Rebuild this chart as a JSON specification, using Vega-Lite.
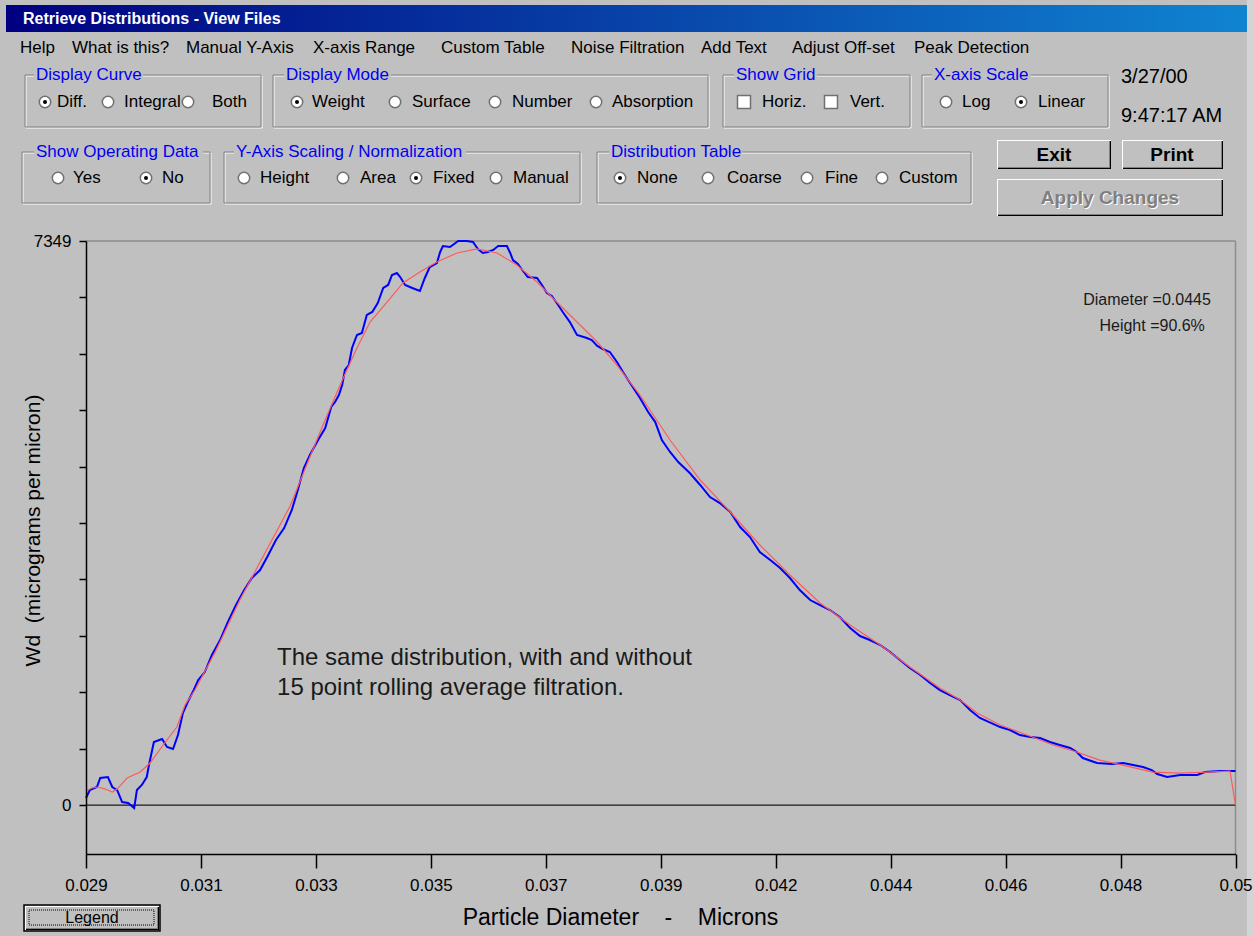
{
  "$schema": "https://vega.github.io/schema/vega-lite/v6.json",
  "width": 1254,
  "height": 936,
  "autosize": "none",
  "padding": 0,
  "background": "#c0c0c0",
  "config": {"view": {"stroke": null}, "font": "Liberation Sans"},
  "datasets": {
    "titlebar": [{"x": 6, "x2": 1247, "y": 5, "y2": 32}],
    "wintitle": [{"label": "Retrieve Distributions - View Files", "x": 23, "y": 19}],
    "menu": [
      {"label": "Help", "x": 20, "y": 48},
      {"label": "What is this?", "x": 72, "y": 48},
      {"label": "Manual Y-Axis", "x": 186, "y": 48},
      {"label": "X-axis Range", "x": 313, "y": 48},
      {"label": "Custom Table", "x": 441, "y": 48},
      {"label": "Noise Filtration", "x": 571, "y": 48},
      {"label": "Add Text", "x": 701, "y": 48},
      {"label": "Adjust Off-set", "x": 792, "y": 48},
      {"label": "Peak Detection", "x": 914, "y": 48}
    ],
    "groups": [
      {"title": "Display Curve", "x": 25, "x2": 261, "y": 75, "y2": 127, "tx": 34, "tx2": 143},
      {"title": "Display Mode", "x": 273, "x2": 708, "y": 75, "y2": 127, "tx": 284, "tx2": 391},
      {"title": "Show Grid", "x": 723, "x2": 910, "y": 75, "y2": 127, "tx": 734, "tx2": 817},
      {"title": "X-axis Scale", "x": 922, "x2": 1108, "y": 75, "y2": 127, "tx": 932, "tx2": 1031},
      {"title": "Show Operating Data", "x": 22, "x2": 210, "y": 152, "y2": 203, "tx": 34, "tx2": 203},
      {"title": "Y-Axis Scaling / Normalization", "x": 224, "x2": 580, "y": 152, "y2": 203, "tx": 234, "tx2": 466},
      {"title": "Distribution Table", "x": 597, "x2": 971, "y": 152, "y2": 203, "tx": 609, "tx2": 742}
    ],
    "radios": [
      {"x": 45, "y": 102, "on": true}, {"x": 108, "y": 102, "on": false}, {"x": 188, "y": 102, "on": false},
      {"x": 297, "y": 102, "on": true}, {"x": 395, "y": 102, "on": false}, {"x": 495, "y": 102, "on": false},
      {"x": 596, "y": 102, "on": false}, {"x": 946, "y": 102, "on": false}, {"x": 1021, "y": 102, "on": true},
      {"x": 58, "y": 178, "on": false}, {"x": 146, "y": 178, "on": true}, {"x": 244, "y": 178, "on": false},
      {"x": 343, "y": 178, "on": false}, {"x": 416, "y": 178, "on": true}, {"x": 496, "y": 178, "on": false},
      {"x": 620, "y": 178, "on": true}, {"x": 708, "y": 178, "on": false}, {"x": 807, "y": 178, "on": false},
      {"x": 882, "y": 178, "on": false}
    ],
    "checks": [{"x": 744, "y": 102}, {"x": 831, "y": 102}],
    "ctrl": [
      {"label": "Diff.", "x": 57, "y": 102}, {"label": "Integral", "x": 124, "y": 102}, {"label": "Both", "x": 212, "y": 102},
      {"label": "Weight", "x": 312, "y": 102}, {"label": "Surface", "x": 412, "y": 102}, {"label": "Number", "x": 512, "y": 102},
      {"label": "Absorption", "x": 612, "y": 102}, {"label": "Horiz.", "x": 762, "y": 102}, {"label": "Vert.", "x": 850, "y": 102},
      {"label": "Log", "x": 962, "y": 102}, {"label": "Linear", "x": 1038, "y": 102},
      {"label": "Yes", "x": 73, "y": 178}, {"label": "No", "x": 162, "y": 178}, {"label": "Height", "x": 260, "y": 178},
      {"label": "Area", "x": 360, "y": 178}, {"label": "Fixed", "x": 433, "y": 178}, {"label": "Manual", "x": 513, "y": 178},
      {"label": "None", "x": 637, "y": 178}, {"label": "Coarse", "x": 727, "y": 178}, {"label": "Fine", "x": 825, "y": 178},
      {"label": "Custom", "x": 899, "y": 178}
    ],
    "dates": [{"label": "3/27/00", "x": 1121, "y": 77}, {"label": "9:47:17 AM", "x": 1121, "y": 116}],
    "buttons": [
      {"x": 997, "x2": 1111, "y": 140, "y2": 169, "def": false},
      {"x": 1122, "x2": 1223, "y": 140, "y2": 169, "def": false},
      {"x": 997, "x2": 1223, "y": 179, "y2": 216, "def": false},
      {"x": 25, "x2": 159, "y": 906, "y2": 930, "def": true}
    ],
    "buttontext": [
      {"label": "Exit", "x": 1054, "y": 155, "kind": "bold"},
      {"label": "Print", "x": 1172, "y": 155, "kind": "bold"},
      {"label": "Apply Changes", "x": 1110, "y": 198, "kind": "disabled"},
      {"label": "Legend", "x": 92, "y": 918, "kind": "plain"}
    ],
    "edges": [
      {"x": 1247, "x2": 1254, "y": 0, "y2": 936}
    ],
    "frame": [
      {"d": 0.029, "w": 7349, "d2": 0.05, "w2": 7349},
      {"d": 0.05, "w": -638, "d2": 0.05, "w2": 7349}
    ],
    "zero": [{"d": 0.029, "d2": 0.05, "w": 0, "w2": 0}],
    "blue": [
      {"d":0.02900,"w":91},{"d":0.02907,"w":195},{"d":0.02920,"w":235},{"d":0.02926,"w":352},{"d":0.02940,"w":365},{"d":0.02948,"w":235},{"d":0.02957,"w":195},{"d":0.02966,"w":39},{"d":0.02977,"w":26},{"d":0.02988,"w":-39},
      {"d":0.02993,"w":195},{"d":0.03002,"w":261},{"d":0.03011,"w":365},{"d":0.03015,"w":521},{"d":0.03024,"w":821},{"d":0.03039,"w":860},{"d":0.03048,"w":756},{"d":0.03059,"w":730},{"d":0.03068,"w":912},{"d":0.03077,"w":1199},
      {"d":0.03085,"w":1329},{"d":0.03095,"w":1472},{"d":0.03105,"w":1629},{"d":0.03117,"w":1733},{"d":0.03130,"w":1955},{"d":0.03145,"w":2150},{"d":0.03159,"w":2384},{"d":0.03174,"w":2606},{"d":0.03189,"w":2801},{"d":0.03203,"w":2958},
      {"d":0.03218,"w":3062},{"d":0.03232,"w":3244},{"d":0.03247,"w":3453},{"d":0.03262,"w":3609},{"d":0.03276,"w":3844},{"d":0.03287,"w":4104},{"d":0.03298,"w":4391},{"d":0.03309,"w":4561},{"d":0.03324,"w":4756},{"d":0.03337,"w":4912},
      {"d":0.03348,"w":5186},{"d":0.03355,"w":5251},{"d":0.03362,"w":5342},{"d":0.03368,"w":5473},{"d":0.03373,"w":5668},{"d":0.03380,"w":5733},{"d":0.03386,"w":5955},{"d":0.03395,"w":6124},{"d":0.03404,"w":6150},{"d":0.03413,"w":6385},
      {"d":0.03423,"w":6424},{"d":0.03433,"w":6541},{"d":0.03443,"w":6737},{"d":0.03452,"w":6776},{"d":0.03459,"w":6906},{"d":0.03468,"w":6932},{"d":0.03474,"w":6880},{"d":0.03483,"w":6776},{"d":0.03496,"w":6737},{"d":0.03510,"w":6697},
      {"d":0.03519,"w":6867},{"d":0.03528,"w":7010},{"d":0.03541,"w":7062},{"d":0.03547,"w":7206},{"d":0.03552,"w":7284},{"d":0.03565,"w":7271},{"d":0.03570,"w":7297},{"d":0.03580,"w":7349},{"d":0.03596,"w":7349},{"d":0.03607,"w":7336},
      {"d":0.03616,"w":7245},{"d":0.03625,"w":7193},{"d":0.03634,"w":7206},{"d":0.03644,"w":7232},{"d":0.03653,"w":7284},{"d":0.03669,"w":7284},{"d":0.03675,"w":7193},{"d":0.03680,"w":7101},{"d":0.03689,"w":7049},{"d":0.03697,"w":6971},
      {"d":0.03707,"w":6880},{"d":0.03724,"w":6867},{"d":0.03733,"w":6776},{"d":0.03742,"w":6671},{"d":0.03751,"w":6632},{"d":0.03760,"w":6541},{"d":0.03771,"w":6424},{"d":0.03784,"w":6293},{"d":0.03797,"w":6124},{"d":0.03815,"w":6085},
      {"d":0.03824,"w":6059},{"d":0.03834,"w":5981},{"d":0.03844,"w":5942},{"d":0.03857,"w":5903},{"d":0.03870,"w":5772},{"d":0.03881,"w":5642},{"d":0.03894,"w":5499},{"d":0.03912,"w":5303},{"d":0.03927,"w":5121},{"d":0.03940,"w":4990},
      {"d":0.03952,"w":4756},{"d":0.03967,"w":4600},{"d":0.03982,"w":4469},{"d":0.04003,"w":4326},{"d":0.04022,"w":4170},{"d":0.04040,"w":4013},{"d":0.04058,"w":3935},{"d":0.04077,"w":3818},{"d":0.04095,"w":3622},{"d":0.04113,"w":3492},
      {"d":0.04131,"w":3297},{"d":0.04150,"w":3192},{"d":0.04168,"w":3088},{"d":0.04186,"w":2958},{"d":0.04204,"w":2801},{"d":0.04223,"w":2671},{"d":0.04241,"w":2606},{"d":0.04259,"w":2541},{"d":0.04277,"w":2450},{"d":0.04296,"w":2306},
      {"d":0.04314,"w":2202},{"d":0.04332,"w":2150},{"d":0.04351,"w":2085},{"d":0.04369,"w":1994},{"d":0.04387,"w":1889},{"d":0.04405,"w":1785},{"d":0.04424,"w":1694},{"d":0.04442,"w":1590},{"d":0.04460,"w":1498},{"d":0.04478,"w":1433},
      {"d":0.04497,"w":1368},{"d":0.04515,"w":1238},{"d":0.04533,"w":1134},{"d":0.04570,"w":1016},{"d":0.04588,"w":977},{"d":0.04606,"w":912},{"d":0.04625,"w":886},{"d":0.04643,"w":873},{"d":0.04661,"w":821},{"d":0.04679,"w":782},
      {"d":0.04698,"w":743},{"d":0.04710,"w":691},{"d":0.04721,"w":612},{"d":0.04747,"w":547},{"d":0.04774,"w":534},{"d":0.04795,"w":547},{"d":0.04813,"w":521},{"d":0.04831,"w":495},{"d":0.04847,"w":456},{"d":0.04857,"w":404},
      {"d":0.04875,"w":365},{"d":0.04899,"w":391},{"d":0.04930,"w":391},{"d":0.04944,"w":430},{"d":0.04972,"w":443},{"d":0.05,"w":443}
    ],
    "red": [
      {"d":0.02900,"w":182},{"d":0.02911,"w":222},{"d":0.02922,"w":235},{"d":0.02935,"w":208},{"d":0.02948,"w":169},{"d":0.02957,"w":208},{"d":0.02975,"w":352},{"d":0.02999,"w":430},{"d":0.03017,"w":547},{"d":0.03041,"w":782},
      {"d":0.03066,"w":1016},{"d":0.03081,"w":1303},{"d":0.03099,"w":1498},{"d":0.03136,"w":1994},{"d":0.03181,"w":2671},{"d":0.03227,"w":3284},{"d":0.03273,"w":3896},{"d":0.03309,"w":4534},{"d":0.03333,"w":4951},{"d":0.03351,"w":5251},
      {"d":0.03370,"w":5564},{"d":0.03395,"w":5955},{"d":0.03419,"w":6293},{"d":0.03450,"w":6554},{"d":0.03479,"w":6802},{"d":0.03510,"w":6945},{"d":0.03541,"w":7075},{"d":0.03578,"w":7193},{"d":0.03614,"w":7245},{"d":0.03651,"w":7193},
      {"d":0.03687,"w":7036},{"d":0.03724,"w":6815},{"d":0.03760,"w":6554},{"d":0.03797,"w":6293},{"d":0.03834,"w":6033},{"d":0.03870,"w":5733},{"d":0.03912,"w":5342},{"d":0.03967,"w":4756},{"d":0.04022,"w":4235},{"d":0.04077,"w":3818},
      {"d":0.04131,"w":3388},{"d":0.04186,"w":2997},{"d":0.04241,"w":2632},{"d":0.04296,"w":2345},{"d":0.04351,"w":2085},{"d":0.04405,"w":1798},{"d":0.04460,"w":1525},{"d":0.04497,"w":1368},{"d":0.04528,"w":1199},{"d":0.04570,"w":1042},
      {"d":0.04619,"w":912},{"d":0.04667,"w":782},{"d":0.04710,"w":691},{"d":0.04752,"w":586},{"d":0.04802,"w":508},{"d":0.04849,"w":430},{"d":0.04899,"w":417},{"d":0.04948,"w":430},{"d":0.04990,"w":443},{"d":0.05,"w":0}
    ],
    "notes": [
      {"label": "The same distribution, with and without", "d": 0.03249, "w": 1915},
      {"label": "15 point rolling average filtration.", "d": 0.03249, "w": 1525}
    ],
    "readout": [
      {"label": "Diameter =0.0445", "d": 0.04955, "w": 6580},
      {"label": "Height =90.6%", "d": 0.04944, "w": 6241}
    ]
  },
  "layer": [
    {
      "layer": [
        {
          "data": {"name": "titlebar"},
          "mark": {"type": "rect", "fill": {"gradient": "linear", "x1": 0, "y1": 0, "x2": 1, "y2": 0, "stops": [{"offset": 0, "color": "#000080"}, {"offset": 1, "color": "#1084d0"}]}},
          "encoding": {
            "x": {"field": "x", "type": "quantitative", "scale": {"domain": [0, 1254], "range": [0, 1254], "nice": false, "zero": false}, "axis": null},
            "x2": {"field": "x2"},
            "y": {"field": "y", "type": "quantitative", "scale": {"domain": [0, 936], "range": [0, 936], "nice": false, "zero": false}, "axis": null},
            "y2": {"field": "y2"}
          }
        },
        {
          "data": {"name": "edges"},
          "mark": {"type": "rect", "fill": "#d4d4d4"},
          "encoding": {
            "x": {"field": "x", "type": "quantitative", "scale": {"domain": [0, 1254], "range": [0, 1254], "nice": false, "zero": false}, "axis": null},
            "x2": {"field": "x2"},
            "y": {"field": "y", "type": "quantitative", "scale": {"domain": [0, 936], "range": [0, 936], "nice": false, "zero": false}, "axis": null},
            "y2": {"field": "y2"}
          }
        },
        {
          "data": {"name": "wintitle"},
          "mark": {"type": "text", "align": "left", "baseline": "middle", "fill": "#ffffff", "fontWeight": "bold", "fontSize": 16, "font": "Liberation Sans"},
          "encoding": {
            "x": {"field": "x", "type": "quantitative", "scale": {"domain": [0, 1254], "range": [0, 1254], "nice": false, "zero": false}, "axis": null},
            "y": {"field": "y", "type": "quantitative", "scale": {"domain": [0, 936], "range": [0, 936], "nice": false, "zero": false}, "axis": null},
            "text": {"field": "label"}
          }
        },
        {
          "data": {"name": "menu"},
          "mark": {"type": "text", "align": "left", "baseline": "middle", "fill": "#000000", "fontSize": 17, "font": "Liberation Sans"},
          "encoding": {
            "x": {"field": "x", "type": "quantitative", "scale": {"domain": [0, 1254], "range": [0, 1254], "nice": false, "zero": false}, "axis": null},
            "y": {"field": "y", "type": "quantitative", "scale": {"domain": [0, 936], "range": [0, 936], "nice": false, "zero": false}, "axis": null},
            "text": {"field": "label"}
          }
        },
        {
          "data": {"name": "groups"},
          "mark": {"type": "rect", "fillOpacity": 0, "stroke": "#ffffff", "strokeWidth": 1, "xOffset": 1, "yOffset": 1, "x2Offset": 1, "y2Offset": 1},
          "encoding": {
            "x": {"field": "x", "type": "quantitative", "scale": {"domain": [0, 1254], "range": [0, 1254], "nice": false, "zero": false}, "axis": null},
            "x2": {"field": "x2"},
            "y": {"field": "y", "type": "quantitative", "scale": {"domain": [0, 936], "range": [0, 936], "nice": false, "zero": false}, "axis": null},
            "y2": {"field": "y2"}
          }
        },
        {
          "data": {"name": "groups"},
          "mark": {"type": "rect", "fillOpacity": 0, "stroke": "#808080", "strokeWidth": 1},
          "encoding": {
            "x": {"field": "x", "type": "quantitative", "scale": {"domain": [0, 1254], "range": [0, 1254], "nice": false, "zero": false}, "axis": null},
            "x2": {"field": "x2"},
            "y": {"field": "y", "type": "quantitative", "scale": {"domain": [0, 936], "range": [0, 936], "nice": false, "zero": false}, "axis": null},
            "y2": {"field": "y2"}
          }
        },
        {
          "data": {"name": "groups"},
          "mark": {"type": "rect", "fill": "#c0c0c0", "yOffset": -9, "y2Offset": 9},
          "encoding": {
            "x": {"field": "tx", "type": "quantitative", "scale": {"domain": [0, 1254], "range": [0, 1254], "nice": false, "zero": false}, "axis": null},
            "x2": {"field": "tx2"},
            "y": {"field": "y", "type": "quantitative", "scale": {"domain": [0, 936], "range": [0, 936], "nice": false, "zero": false}, "axis": null},
            "y2": {"field": "y"}
          }
        },
        {
          "data": {"name": "groups"},
          "mark": {"type": "text", "align": "left", "baseline": "middle", "dx": 2, "fill": "#0000f0", "fontSize": 17, "font": "Liberation Sans"},
          "encoding": {
            "x": {"field": "tx", "type": "quantitative", "scale": {"domain": [0, 1254], "range": [0, 1254], "nice": false, "zero": false}, "axis": null},
            "y": {"field": "y", "type": "quantitative", "scale": {"domain": [0, 936], "range": [0, 936], "nice": false, "zero": false}, "axis": null},
            "text": {"field": "title"}
          }
        },
        {
          "data": {"name": "radios"},
          "mark": {"type": "circle", "size": 130, "fill": "#ffffff", "stroke": "#707070", "strokeWidth": 1.5, "opacity": 1},
          "encoding": {
            "x": {"field": "x", "type": "quantitative", "scale": {"domain": [0, 1254], "range": [0, 1254], "nice": false, "zero": false}, "axis": null},
            "y": {"field": "y", "type": "quantitative", "scale": {"domain": [0, 936], "range": [0, 936], "nice": false, "zero": false}, "axis": null}
          }
        },
        {
          "data": {"name": "radios"},
          "transform": [{"filter": "datum.on"}],
          "mark": {"type": "circle", "size": 16, "fill": "#000000", "opacity": 1},
          "encoding": {
            "x": {"field": "x", "type": "quantitative", "scale": {"domain": [0, 1254], "range": [0, 1254], "nice": false, "zero": false}, "axis": null},
            "y": {"field": "y", "type": "quantitative", "scale": {"domain": [0, 936], "range": [0, 936], "nice": false, "zero": false}, "axis": null}
          }
        },
        {
          "data": {"name": "checks"},
          "mark": {"type": "square", "size": 169, "fill": "#ffffff", "stroke": "#707070", "strokeWidth": 1.5, "opacity": 1},
          "encoding": {
            "x": {"field": "x", "type": "quantitative", "scale": {"domain": [0, 1254], "range": [0, 1254], "nice": false, "zero": false}, "axis": null},
            "y": {"field": "y", "type": "quantitative", "scale": {"domain": [0, 936], "range": [0, 936], "nice": false, "zero": false}, "axis": null}
          }
        },
        {
          "data": {"name": "ctrl"},
          "mark": {"type": "text", "align": "left", "baseline": "middle", "fill": "#000000", "fontSize": 17, "font": "Liberation Sans"},
          "encoding": {
            "x": {"field": "x", "type": "quantitative", "scale": {"domain": [0, 1254], "range": [0, 1254], "nice": false, "zero": false}, "axis": null},
            "y": {"field": "y", "type": "quantitative", "scale": {"domain": [0, 936], "range": [0, 936], "nice": false, "zero": false}, "axis": null},
            "text": {"field": "label"}
          }
        },
        {
          "data": {"name": "dates"},
          "mark": {"type": "text", "align": "left", "baseline": "middle", "fill": "#000000", "fontSize": 20, "font": "Liberation Sans"},
          "encoding": {
            "x": {"field": "x", "type": "quantitative", "scale": {"domain": [0, 1254], "range": [0, 1254], "nice": false, "zero": false}, "axis": null},
            "y": {"field": "y", "type": "quantitative", "scale": {"domain": [0, 936], "range": [0, 936], "nice": false, "zero": false}, "axis": null},
            "text": {"field": "label"}
          }
        },
        {
          "data": {"name": "buttons"},
          "mark": {"type": "rect", "fill": "#ffffff"},
          "encoding": {
            "x": {"field": "x", "type": "quantitative", "scale": {"domain": [0, 1254], "range": [0, 1254], "nice": false, "zero": false}, "axis": null},
            "x2": {"field": "x2"},
            "y": {"field": "y", "type": "quantitative", "scale": {"domain": [0, 936], "range": [0, 936], "nice": false, "zero": false}, "axis": null},
            "y2": {"field": "y2"}
          }
        },
        {
          "data": {"name": "buttons"},
          "mark": {"type": "rect", "fill": "#000000", "xOffset": 1, "yOffset": 1},
          "encoding": {
            "x": {"field": "x", "type": "quantitative", "scale": {"domain": [0, 1254], "range": [0, 1254], "nice": false, "zero": false}, "axis": null},
            "x2": {"field": "x2"},
            "y": {"field": "y", "type": "quantitative", "scale": {"domain": [0, 936], "range": [0, 936], "nice": false, "zero": false}, "axis": null},
            "y2": {"field": "y2"}
          }
        },
        {
          "data": {"name": "buttons"},
          "mark": {"type": "rect", "fill": "#808080", "xOffset": 1, "yOffset": 1, "x2Offset": -1, "y2Offset": -1},
          "encoding": {
            "x": {"field": "x", "type": "quantitative", "scale": {"domain": [0, 1254], "range": [0, 1254], "nice": false, "zero": false}, "axis": null},
            "x2": {"field": "x2"},
            "y": {"field": "y", "type": "quantitative", "scale": {"domain": [0, 936], "range": [0, 936], "nice": false, "zero": false}, "axis": null},
            "y2": {"field": "y2"}
          }
        },
        {
          "data": {"name": "buttons"},
          "mark": {"type": "rect", "fill": "#c0c0c0", "xOffset": 1, "yOffset": 1, "x2Offset": -2, "y2Offset": -2},
          "encoding": {
            "x": {"field": "x", "type": "quantitative", "scale": {"domain": [0, 1254], "range": [0, 1254], "nice": false, "zero": false}, "axis": null},
            "x2": {"field": "x2"},
            "y": {"field": "y", "type": "quantitative", "scale": {"domain": [0, 936], "range": [0, 936], "nice": false, "zero": false}, "axis": null},
            "y2": {"field": "y2"}
          }
        },
        {
          "data": {"name": "buttons"},
          "transform": [{"filter": "datum.def"}],
          "mark": {"type": "rect", "fillOpacity": 0, "stroke": "#000000", "strokeWidth": 1.5, "xOffset": -1, "yOffset": -1, "x2Offset": 1, "y2Offset": 1},
          "encoding": {
            "x": {"field": "x", "type": "quantitative", "scale": {"domain": [0, 1254], "range": [0, 1254], "nice": false, "zero": false}, "axis": null},
            "x2": {"field": "x2"},
            "y": {"field": "y", "type": "quantitative", "scale": {"domain": [0, 936], "range": [0, 936], "nice": false, "zero": false}, "axis": null},
            "y2": {"field": "y2"}
          }
        },
        {
          "data": {"name": "buttons"},
          "transform": [{"filter": "datum.def"}],
          "mark": {"type": "rect", "fillOpacity": 0, "stroke": "#000000", "strokeWidth": 1, "strokeDash": [1, 1], "xOffset": 4, "yOffset": 4, "x2Offset": -5, "y2Offset": -5},
          "encoding": {
            "x": {"field": "x", "type": "quantitative", "scale": {"domain": [0, 1254], "range": [0, 1254], "nice": false, "zero": false}, "axis": null},
            "x2": {"field": "x2"},
            "y": {"field": "y", "type": "quantitative", "scale": {"domain": [0, 936], "range": [0, 936], "nice": false, "zero": false}, "axis": null},
            "y2": {"field": "y2"}
          }
        },
        {
          "data": {"name": "buttontext"},
          "transform": [{"filter": "datum.kind == 'bold'"}],
          "mark": {"type": "text", "align": "center", "baseline": "middle", "fill": "#000000", "fontSize": 19, "fontWeight": "bold", "font": "Liberation Sans"},
          "encoding": {
            "x": {"field": "x", "type": "quantitative", "scale": {"domain": [0, 1254], "range": [0, 1254], "nice": false, "zero": false}, "axis": null},
            "y": {"field": "y", "type": "quantitative", "scale": {"domain": [0, 936], "range": [0, 936], "nice": false, "zero": false}, "axis": null},
            "text": {"field": "label"}
          }
        },
        {
          "data": {"name": "buttontext"},
          "transform": [{"filter": "datum.kind == 'disabled'"}],
          "mark": {"type": "text", "align": "center", "baseline": "middle", "fill": "#ffffff", "dx": 1, "dy": 1, "fontSize": 19, "fontWeight": "bold", "font": "Liberation Sans"},
          "encoding": {
            "x": {"field": "x", "type": "quantitative", "scale": {"domain": [0, 1254], "range": [0, 1254], "nice": false, "zero": false}, "axis": null},
            "y": {"field": "y", "type": "quantitative", "scale": {"domain": [0, 936], "range": [0, 936], "nice": false, "zero": false}, "axis": null},
            "text": {"field": "label"}
          }
        },
        {
          "data": {"name": "buttontext"},
          "transform": [{"filter": "datum.kind == 'disabled'"}],
          "mark": {"type": "text", "align": "center", "baseline": "middle", "fill": "#808080", "fontSize": 19, "fontWeight": "bold", "font": "Liberation Sans"},
          "encoding": {
            "x": {"field": "x", "type": "quantitative", "scale": {"domain": [0, 1254], "range": [0, 1254], "nice": false, "zero": false}, "axis": null},
            "y": {"field": "y", "type": "quantitative", "scale": {"domain": [0, 936], "range": [0, 936], "nice": false, "zero": false}, "axis": null},
            "text": {"field": "label"}
          }
        },
        {
          "data": {"name": "buttontext"},
          "transform": [{"filter": "datum.kind == 'plain'"}],
          "mark": {"type": "text", "align": "center", "baseline": "middle", "fill": "#000000", "fontSize": 16, "font": "Liberation Sans"},
          "encoding": {
            "x": {"field": "x", "type": "quantitative", "scale": {"domain": [0, 1254], "range": [0, 1254], "nice": false, "zero": false}, "axis": null},
            "y": {"field": "y", "type": "quantitative", "scale": {"domain": [0, 936], "range": [0, 936], "nice": false, "zero": false}, "axis": null},
            "text": {"field": "label"}
          }
        }
      ]
    },
    {
      "layer": [
        {
          "data": {"name": "frame"},
          "mark": {"type": "rule", "stroke": "#8c8c8c", "strokeWidth": 1.5},
          "encoding": {
            "x": {"field": "d", "type": "quantitative", "scale": {"domain": [0.029, 0.05], "range": [86, 1235.5], "nice": false, "zero": false}},
            "x2": {"field": "d2"},
            "y": {"field": "w", "type": "quantitative", "scale": {"domain": [-638, 7349], "range": [854, 241], "nice": false, "zero": false}},
            "y2": {"field": "w2"}
          }
        },
        {
          "data": {"name": "zero"},
          "mark": {"type": "rule", "stroke": "#1a1a1a", "strokeWidth": 1.3},
          "encoding": {
            "x": {"field": "d", "type": "quantitative", "scale": {"domain": [0.029, 0.05], "range": [86, 1235.5], "nice": false, "zero": false}},
            "x2": {"field": "d2"},
            "y": {"field": "w", "type": "quantitative", "scale": {"domain": [-638, 7349], "range": [854, 241], "nice": false, "zero": false}},
            "y2": {"field": "w2"}
          }
        },
        {
          "data": {"name": "blue"},
          "mark": {"type": "line", "stroke": "#0000ff", "strokeWidth": 2, "interpolate": "linear"},
          "encoding": {
            "x": {
              "field": "d", "type": "quantitative",
              "scale": {"domain": [0.029, 0.05], "range": [86, 1235.5], "nice": false, "zero": false},
              "axis": {
                "orient": "bottom", "offset": -82, "zindex": 1,
                "values": [0.029, 0.0311, 0.0332, 0.0353, 0.0374, 0.0395, 0.0416, 0.0437, 0.0458, 0.0479, 0.05],
                "labelExpr": "['0.029','0.031','0.033','0.035','0.037','0.039','0.042','0.044','0.046','0.048','0.05'][round((datum.value - 0.029) / 0.0021)]",
                "grid": false, "domainColor": "#000000", "domainWidth": 1.5,
                "tickColor": "#000000", "tickWidth": 1.5, "tickSize": 14,
                "labelFont": "Liberation Sans", "labelFontSize": 17, "labelColor": "#000000", "labelPadding": 9,
                "labelFlush": false, "labelOverlap": false, "labelBound": false,
                "title": "Particle Diameter\u00a0\u00a0\u00a0\u00a0-\u00a0\u00a0\u00a0\u00a0Microns",
                "titleFont": "Liberation Sans", "titleFontSize": 23, "titleFontWeight": "normal", "titleColor": "#000000",
                "titleX": 620, "titleY": 63, "titleAlign": "center", "titleBaseline": "middle"
              }
            },
            "y": {
              "field": "w", "type": "quantitative",
              "scale": {"domain": [-638, 7349], "range": [854, 241], "nice": false, "zero": false},
              "axis": {
                "orient": "left", "offset": -86, "zindex": 1,
                "values": [0, 734.9, 1469.8, 2204.7, 2939.6, 3674.5, 4409.4, 5144.3, 5879.2, 6614.1, 7349],
                "labelExpr": "datum.value == 0 ? '0' : (datum.value > 7300 ? '7349' : '')",
                "grid": false, "domainColor": "#000000", "domainWidth": 1.5,
                "tickColor": "#000000", "tickWidth": 1.5, "tickSize": 7,
                "labelFont": "Liberation Sans", "labelFontSize": 17, "labelColor": "#000000", "labelPadding": 8,
                "labelFlush": false, "labelOverlap": false, "labelBound": false,
                "title": "Wd\u00a0\u00a0(micrograms per micron)",
                "titleFont": "Liberation Sans", "titleFontSize": 21, "titleFontWeight": "normal", "titleColor": "#000000",
                "titleX": -53, "titleY": 530, "titleAngle": 270, "titleAlign": "center", "titleBaseline": "middle"
              }
            }
          }
        },
        {
          "data": {"name": "red"},
          "mark": {"type": "line", "stroke": "#ff5a5a", "strokeWidth": 1.2, "interpolate": "linear"},
          "encoding": {
            "x": {"field": "d", "type": "quantitative", "scale": {"domain": [0.029, 0.05], "range": [86, 1235.5], "nice": false, "zero": false}},
            "y": {"field": "w", "type": "quantitative", "scale": {"domain": [-638, 7349], "range": [854, 241], "nice": false, "zero": false}}
          }
        },
        {
          "data": {"name": "notes"},
          "mark": {"type": "text", "align": "left", "baseline": "middle", "fill": "#1a1a1a", "fontSize": 24, "font": "Liberation Sans"},
          "encoding": {
            "x": {"field": "d", "type": "quantitative", "scale": {"domain": [0.029, 0.05], "range": [86, 1235.5], "nice": false, "zero": false}},
            "y": {"field": "w", "type": "quantitative", "scale": {"domain": [-638, 7349], "range": [854, 241], "nice": false, "zero": false}},
            "text": {"field": "label"}
          }
        },
        {
          "data": {"name": "readout"},
          "mark": {"type": "text", "align": "right", "baseline": "middle", "fill": "#1a1a1a", "fontSize": 16, "font": "Liberation Sans"},
          "encoding": {
            "x": {"field": "d", "type": "quantitative", "scale": {"domain": [0.029, 0.05], "range": [86, 1235.5], "nice": false, "zero": false}},
            "y": {"field": "w", "type": "quantitative", "scale": {"domain": [-638, 7349], "range": [854, 241], "nice": false, "zero": false}},
            "text": {"field": "label"}
          }
        }
      ]
    }
  ],
  "resolve": {"scale": {"x": "independent", "y": "independent"}, "axis": {"x": "independent", "y": "independent"}}
}
